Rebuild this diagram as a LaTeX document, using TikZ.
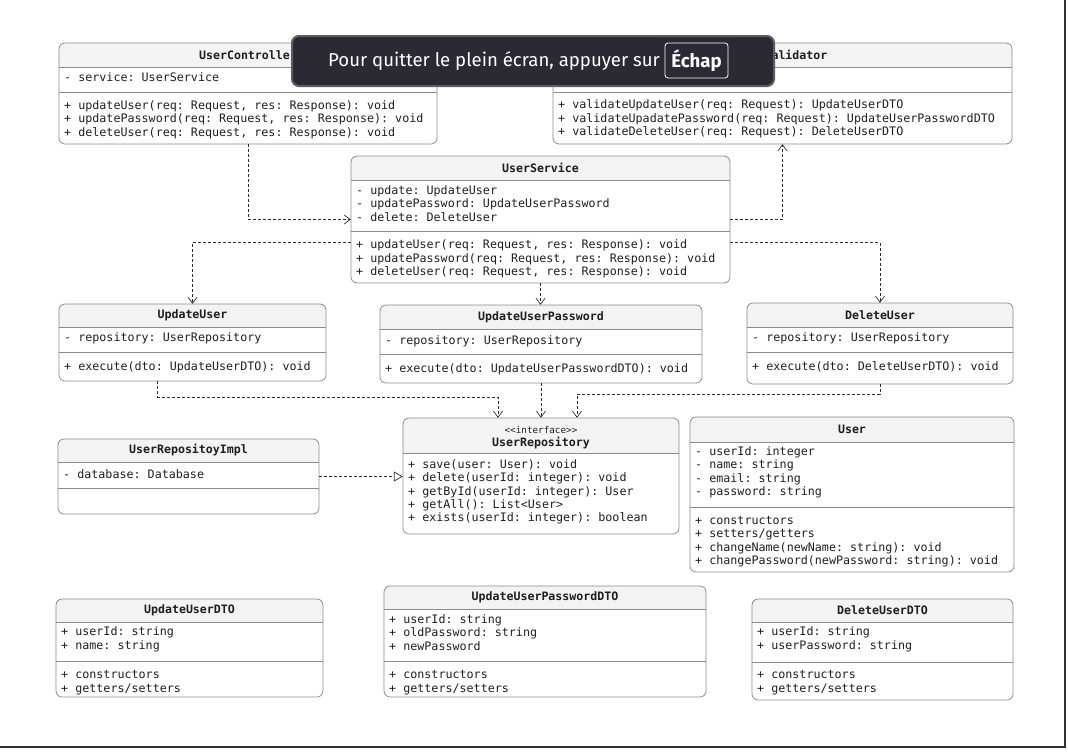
\documentclass[tikz,border=0pt]{standalone}
\usepackage{fontspec}
\setmonofont{DejaVu Sans Mono}
\newfontfamily\bannerfont{Fira Sans}
\usetikzlibrary{arrows.meta,positioning,calc,fit}
\definecolor{ink}{RGB}{30,30,30}
\definecolor{boxline}{RGB}{140,140,140}
\definecolor{headfill}{RGB}{243,243,243}
\definecolor{wire}{RGB}{45,45,45}
\definecolor{banner}{RGB}{43,42,51}
\definecolor{bannerline}{RGB}{92,92,102}
\definecolor{frameline}{RGB}{50,50,50}
\tikzset{classbox/.style={draw=boxline,rounded corners=6pt,line width=0.8pt},
  member/.style={anchor=west,inner sep=0pt,align=left,font=\ttfamily\fontsize{11.7}{13.4}\selectfont,text=ink},
  ctitle/.style={inner sep=0pt,font=\ttfamily\bfseries\fontsize{11.6}{13}\selectfont,text=ink},
  stereo/.style={inner sep=0pt,font=\ttfamily\fontsize{9.3}{10}\selectfont,text=ink},
  dep/.style={-{Straight Barb[length=6pt,width=9pt]},wire,line width=0.7pt,dash pattern=on 3pt off 2pt},
  realize/.style={-{Triangle[open,length=9pt,width=10pt]},wire,line width=0.7pt,dash pattern=on 3pt off 2pt}}
% class box: name, left, top, right, bottom, header line
\newcommand{\umlclass}[6]{%
  \node[inner sep=0pt,fit={(#2,#3) (#4,#5)}] (#1) {};
  \begin{scope}
    \clip[rounded corners=6pt] (#2,#3) rectangle (#4,#5);
    \fill[headfill] (#2,#3) rectangle (#4,#6);
  \end{scope}
  \draw[classbox] (#2,#3) rectangle (#4,#5);
  \draw[boxline,line width=0.8pt] (#2,#6) -- (#4,#6);}
\newcommand{\sepline}[3]{\draw[boxline,line width=0.8pt] (#1,#3) -- (#2,#3);}

\begin{document}
\begin{tikzpicture}[x=1pt,y=-1pt]
\useasboundingbox (0,0) rectangle (1068,753);

% controller and validator
\umlclass{ctrl}{59}{43}{437}{144}{67}
\sepline{59}{437}{92}
\node[ctitle] (ctrlt) at (248,55) {UserController};
\node[member] (ctrla) at (64,77) {- service: UserService};
\node[member] (ctrlm) at (64,119.5) {+ updateUser(req: Request, res: Response): void\\+ updatePassword(req: Request, res: Response): void\\+ deleteUser(req: Request, res: Response): void};

\umlclass{val}{553}{43}{1012}{144}{67}
\sepline{553}{1012}{92}
\node[ctitle] (valt) at (782,55) {UserValidator};
\node[member] (valm) at (558,119) {+ validateUpdateUser(req: Request): UpdateUserDTO\\+ validateUpadatePassword(req: Request): UpdateUserPasswordDTO\\+ validateDeleteUser(req: Request): DeleteUserDTO};

% service
\umlclass{svc}{351}{156}{730}{283}{180}
\sepline{351}{730}{231}
\node[ctitle] (svct) at (540.5,168) {UserService};
\node[member] (svca) at (356,203.5) {- update: UpdateUser\\- updatePassword: UpdateUserPassword\\- delete: DeleteUser};
\node[member] (svcm) at (356,259) {+ updateUser(req: Request, res: Response): void\\+ updatePassword(req: Request, res: Response): void\\+ deleteUser(req: Request, res: Response): void};

% use cases
\umlclass{uu}{59}{304}{326}{381}{327}
\sepline{59}{326}{352}
\node[ctitle] (uut) at (192.5,315) {UpdateUser};
\node[member] (uua) at (64,338) {- repository: UserRepository};
\node[member] (uum) at (64,367) {+ execute(dto: UpdateUserDTO): void};

\umlclass{uup}{380}{305}{702}{383}{329}
\sepline{380}{702}{354}
\node[ctitle] (uupt) at (541,317) {UpdateUserPassword};
\node[member] (uupa) at (385,341) {- repository: UserRepository};
\node[member] (uupm) at (385,369) {+ execute(dto: UpdateUserPasswordDTO): void};

\umlclass{del}{747}{303}{1013}{384}{327}
\sepline{747}{1013}{352}
\node[ctitle] (delt) at (880,315) {DeleteUser};
\node[member] (dela) at (752,338) {- repository: UserRepository};
\node[member] (delm) at (752,367) {+ execute(dto: DeleteUserDTO): void};

% repository
\umlclass{repo}{403}{418}{679}{534}{453}
\node[stereo] (repos) at (541,430) {<<interface>>};
\node[ctitle] (repot) at (541,443) {UserRepository};
\node[member] (repom) at (408,492) {+ save(user: User): void\\+ delete(userId: integer): void\\+ getById(userId: integer): User\\+ getAll(): List<User>\\+ exists(userId: integer): boolean};

\umlclass{impl}{58}{439}{319}{514}{462}
\sepline{58}{319}{488}
\node[ctitle] (implt) at (188.5,450) {UserRepositoyImpl};
\node[member] (impla) at (63,474) {- database: Database};

\umlclass{usr}{690}{417}{1014}{572}{442}
\sepline{690}{1014}{507}
\node[ctitle] (usrt) at (852,429) {User};
\node[member] (usra) at (695,472.5) {- userId: integer\\- name: string\\- email: string\\- password: string};
\node[member] (usrm) at (695,541.5) {+ constructors\\+ setters/getters\\+ changeName(newName: string): void\\+ changePassword(newPassword: string): void};

% dtos
\umlclass{uudto}{56}{599}{323}{697}{622}
\sepline{56}{323}{661}
\node[ctitle] (uudtot) at (189.5,610) {UpdateUserDTO};
\node[member] (uudtoa) at (61,639.5) {+ userId: string\\+ name: string};
\node[member] (uudtom) at (61,682.5) {+ constructors\\+ getters/setters};

\umlclass{uupdto}{384}{586}{706}{697}{609}
\sepline{384}{706}{661}
\node[ctitle] (uupdtot) at (545,597) {UpdateUserPasswordDTO};
\node[member] (uupdtoa) at (389,632.5) {+ userId: string\\+ oldPassword: string\\+ newPassword};
\node[member] (uupdtom) at (389,682.5) {+ constructors\\+ getters/setters};

\umlclass{deldto}{752}{599}{1013}{700}{622}
\sepline{752}{1013}{662}
\node[ctitle] (deldtot) at (882.5,610) {DeleteUserDTO};
\node[member] (deldtoa) at (757,639.5) {+ userId: string\\+ userPassword: string};
\node[member] (deldtom) at (757,682.5) {+ constructors\\+ getters/setters};

% dependencies
\draw[dep] (ctrl.south) |- (svc.west);
\draw[dep] (svc.east) -| (val.south);
\draw[dep] ([yshift=-23pt]svc.west) -| (uu.north);
\draw[dep] (svc.south) -- (svc.south |- uup.north);
\draw[dep] ([yshift=-23pt]svc.east) -| (del.north);
\draw[dep] ([xshift=-35pt]uu.south) -- ++(0,16) -| ([xshift=-43pt]repo.north);
\draw[dep] (uup.south) -- (uup.south |- repo.north);
\draw[dep] (del.south) -- ++(0,10) -| ([xshift=36pt]repo.north);
\draw[realize] (impl.east) -- (repo.west |- impl.east);

% frame
\draw[frameline,line width=1.5pt] (1065,0) -- (1065,747) -- (0,747);

% fullscreen notice
\node[inner sep=0pt,fit={(292,36) (774,86)},draw=bannerline,fill=banner,line width=2pt,rounded corners=7pt] (banner) {};
\node[inner sep=0pt,text=white,font=\bannerfont\fontsize{18.6}{22}\selectfont] (msg) at (494,61) {Pour quitter le plein écran, appuyer sur};
\node[draw=white,line width=0.8pt,rounded corners=3pt,minimum width=63pt,minimum height=35pt,inner sep=0pt,text=white,font=\bannerfont\bfseries\fontsize{18.6}{22}\selectfont] (esc) at (696.5,60.5) {Échap};
\end{tikzpicture}
\end{document}
